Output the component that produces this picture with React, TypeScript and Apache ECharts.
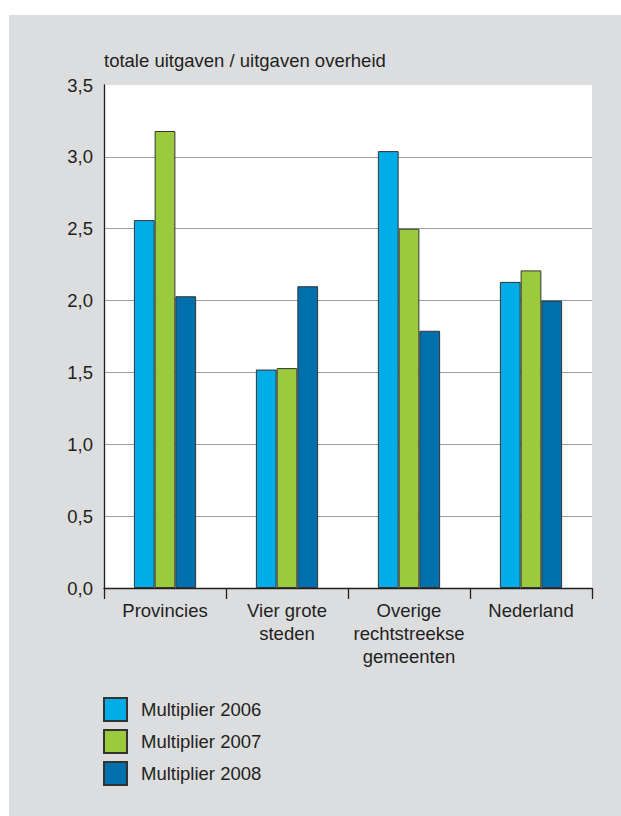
import React, { useEffect, useRef } from "react";
import * as echarts from "echarts";

const categories = ["Provincies", "Vier grote\nsteden", "Overige\nrechtstreekse\ngemeenten", "Nederland"];
const seriesNames = ["Multiplier 2006", "Multiplier 2007", "Multiplier 2008"];
const values2006 = [2.56, 1.52, 3.04, 2.13];
const values2007 = [3.18, 1.53, 2.5, 2.21];
const values2008 = [2.03, 2.1, 1.79, 2.0];
const seriesColors = ["#00ade6", "#9bca3c", "#0070ad"];
const yAxisTitle = "totale uitgaven / uitgaven overheid";

const FONT = "'Liberation Sans', Arial, sans-serif";
const TEXT = "#231f20";
const FS = 18.5;

export default function App() {
  const ref = useRef<HTMLDivElement>(null);
  useEffect(() => {
    document.body.style.margin = "0";
    if (!ref.current) return;
    const chart = echarts.init(ref.current, null, { renderer: "svg" });
    const allValues = [values2006, values2007, values2008];
    chart.setOption({
      animation: false,
      backgroundColor: "#ffffff",
      textStyle: { fontFamily: FONT, color: TEXT },
      graphic: [
        {
          type: "rect",
          z: -10,
          silent: true,
          shape: { x: 9, y: 15, width: 612, height: 801 },
          style: { fill: "#dcdddf" },
        },
      ],
      grid: {
        left: 104,
        top: 85,
        right: 29,
        bottom: 228,
        show: true,
        backgroundColor: "#ffffff",
        borderWidth: 0,
      },
      legend: {
        orient: "vertical",
        left: 103,
        top: 697,
        padding: 0,
        itemWidth: 23,
        itemHeight: 23,
        itemGap: 7,
        icon: "rect",
        data: seriesNames,
        textStyle: { fontSize: FS, color: TEXT, fontFamily: FONT, padding: [0, 0, 0, 9] },
      },
      xAxis: {
        type: "category",
        data: categories,
        axisLine: { lineStyle: { color: "#231f20", width: 1.3 } },
        axisTick: { show: true, length: 11, lineStyle: { color: "#231f20", width: 1.3 } },
        axisLabel: {
          fontSize: FS,
          color: TEXT,
          fontFamily: FONT,
          lineHeight: 23,
          margin: 11,
          interval: 0,
        },
      },
      yAxis: {
        type: "value",
        min: 0,
        max: 3.5,
        interval: 0.5,
        name: yAxisTitle,
        nameLocation: "end",
        nameGap: 25,
        nameTextStyle: { fontSize: FS, color: TEXT, fontFamily: FONT, align: "left", verticalAlign: "middle" },
        axisLine: { show: true, lineStyle: { color: "#231f20", width: 1.3 } },
        axisTick: { show: false },
        axisLabel: {
          fontSize: FS,
          color: TEXT,
          fontFamily: FONT,
          margin: 11,
          formatter: (v: number) => v.toFixed(1).replace(".", ","),
        },
        splitLine: { show: true, showMaxLine: false, lineStyle: { color: "#9d9fa2", width: 1 } },
      },
      series: seriesNames.map((name, i) => ({
        name,
        type: "bar",
        data: allValues[i],
        barGap: "0%",
        barCategoryGap: "49%",
        itemStyle: { color: seriesColors[i], borderColor: "#333333", borderWidth: 1 },
      })),
    });
    return () => chart.dispose();
  }, []);
  return <div ref={ref} style={{ width: 621, height: 816 }} />;
}
